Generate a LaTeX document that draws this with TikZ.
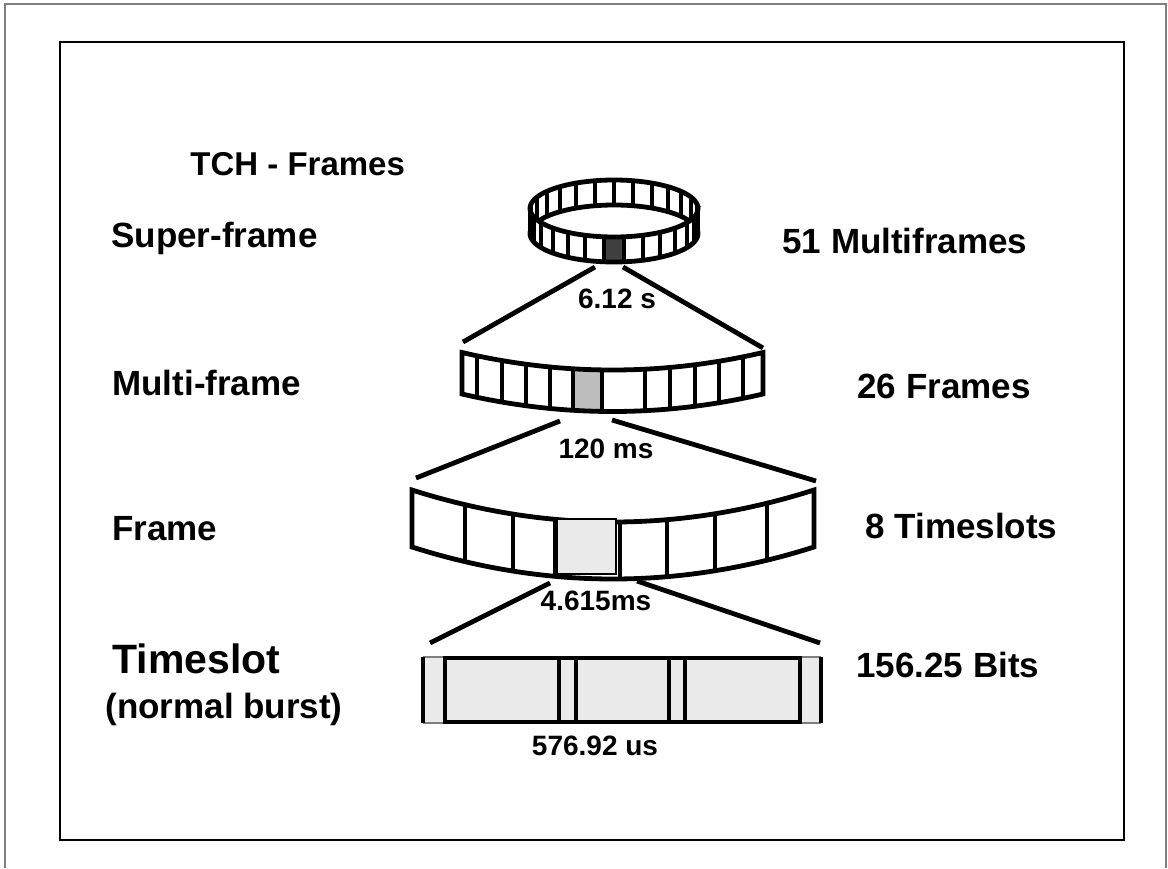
\documentclass[tikz,border=0pt]{standalone}
\usepackage{fontspec}
\setmainfont{Liberation Sans}
\definecolor{cdark}{HTML}{404040}
\definecolor{cmid}{HTML}{BDBDBD}
\definecolor{clight}{HTML}{EAEAEA}
\definecolor{cgrey}{HTML}{7F7F7F}
\tikzset{
  lbl/.style={font=\fontsize{17.5}{21}\selectfont\bfseries, inner sep=0pt, anchor=base west},
  dur/.style={font=\fontsize{14}{17}\selectfont\bfseries, inner sep=0pt, anchor=base},
  bar/.style={draw=black, line width=2.4pt, line join=miter},
  link/.style={draw=black, line width=2.4pt},
  cell/.style={draw=black, line width=2pt},
  declare function={mfy(\x)=370-17.5*((\x-612.5)/150.5)*((\x-612.5)/150.5);
                    fry(\x)=522-32*((\x-613)/201)*((\x-613)/201);},
}
\begin{document}
\begin{tikzpicture}[x=0.5pt, y=-0.5pt]
  \useasboundingbox (0,0) rectangle (1168,868);
  % slide frame
  \draw[cgrey, line width=1pt] (5,868) -- (5,3.5) -- (1166,3.5) -- (1166,868);
  \draw[line width=0.8pt] (60,42) rectangle (1124,840);

  % labels
  \node[lbl, font=\fontsize{16.5}{20}\selectfont\bfseries] (title) at (190,175) {TCH - Frames};
  \node[lbl] (super) at (111,247) {Super-frame};
  \node[lbl] (multi) at (112,395) {Multi-frame};
  \node[lbl] (frame) at (112,540) {Frame};
  \node[lbl, font=\fontsize{20.5}{24}\selectfont\bfseries] (slot) at (112,673) {Timeslot};
  \node[lbl] (burst) at (105,718) {(normal burst)};
  \node[lbl] (n-mf) at (782,253) {51 Multiframes};
  \node[lbl] (n-fr) at (857,398) {26 Frames};
  \node[lbl] (n-ts) at (865,538) {8 Timeslots};
  \node[lbl] (n-bit) at (856,677) {156.25 Bits};
  \node[dur] (d-sf) at (617,308) {6.12 s};
  \node[dur] (d-mf) at (606,458) {120 ms};
  \node[dur] (d-fr) at (596,610) {4.615ms};
  \node[dur] (d-ts) at (595,755) {576.92 us};

  % super-frame ring: 27 cells, dark one in front
  \def\ringx{614} \def\ringy{208.5} \def\ringa{84} \def\ringb{28.5} \def\ringh{25}
  \draw[bar] plot[domain=180:360, samples=60] ({\ringx+\ringa*cos(\x)},{\ringy+\ringh+\ringb*sin(\x)});
  \foreach \k in {7,...,19}
    \draw[cell] ({\ringx+\ringa*cos(96.667+13.333*\k)},{\ringy+\ringb*sin(96.667+13.333*\k)}) -- ++(0,\ringh);
  \fill[white] plot[domain=0:180, samples=60] ({\ringx+\ringa*cos(\x)},{\ringy+\ringb*sin(\x)})
    -- plot[domain=180:0, samples=60] ({\ringx+\ringa*cos(\x)},{\ringy+\ringh+\ringb*sin(\x)}) -- cycle;
  \fill[cdark] plot[domain=83.333:96.667, samples=8] ({\ringx+\ringa*cos(\x)},{\ringy+\ringb*sin(\x)})
    -- plot[domain=96.667:83.333, samples=8] ({\ringx+\ringa*cos(\x)},{\ringy+\ringh+\ringb*sin(\x)}) -- cycle;
  \foreach \k in {-7,...,6}
    \draw[cell] ({\ringx+\ringa*cos(96.667+13.333*\k)},{\ringy+\ringb*sin(96.667+13.333*\k)}) -- ++(0,\ringh);
  \draw[bar] plot[domain=0:360, samples=120] ({\ringx+\ringa*cos(\x)},{\ringy+\ringb*sin(\x)}) -- cycle;
  \draw[bar] plot[domain=0:180, samples=60] ({\ringx+\ringa*cos(\x)},{\ringy+\ringh+\ringb*sin(\x)});
  \draw[bar] ({\ringx-\ringa},\ringy) -- ++(0,\ringh) ({\ringx+\ringa},\ringy) -- ++(0,\ringh);

  % multi-frame
  \fill[cmid] plot[domain=573:602, samples=10] (\x,{mfy(\x)}) -- plot[domain=602:573, samples=10] (\x,{mfy(\x)+41.5}) -- cycle;
  \draw[bar] plot[domain=462:763, samples=50] (\x,{mfy(\x)}) -- plot[domain=763:462, samples=50] (\x,{mfy(\x)+41.5}) -- cycle;
  \foreach \p in {477,502,526,550,573,602,645,670,695,719,743}
    \draw[bar] (\p,{mfy(\p)}) -- (\p,{mfy(\p)+41.5});

  % frame
  \draw[bar] plot[domain=412:814, samples=50] (\x,{fry(\x)}) -- plot[domain=814:412, samples=50] (\x,{fry(\x)+57}) -- cycle;
  \foreach \p in {465,513,555,620,667,715,767}
    \draw[bar] (\p,{fry(\p)}) -- (\p,{fry(\p)+57});
  \filldraw[fill=clight, draw=black, line width=0.6pt] (557,519) rectangle (616,574);

  % timeslot (normal burst)
  \fill[clight] (423,657) rectangle (821,723);
  \draw[cgrey, line width=0.7pt] (423,657) -- (821,657) (423,723) -- (821,723);
  \draw[bar] (423,657) -- (423,723) (821,657) -- (821,723);
  \draw[bar] (445,658) rectangle (800,722);
  \foreach \p in {559,576,669,685}
    \draw[bar] (\p,658) -- (\p,722);

  % zoom lines between levels
  \coordinate (ring-l) at (595,267); \coordinate (ring-r) at (623,267);
  \coordinate (mf-tl) at (463,342);  \coordinate (mf-tr) at (763,348);
  \coordinate (mf-bl) at (560,421);  \coordinate (mf-br) at (612,420);
  \coordinate (fr-tl) at (416,478);  \coordinate (fr-tr) at (816,481);
  \coordinate (fr-bl) at (550,583);  \coordinate (fr-br) at (637,581);
  \coordinate (ts-tl) at (430,643);  \coordinate (ts-tr) at (820,643);
  \draw[link] (ring-l) -- (mf-tl);
  \draw[link] (ring-r) -- (mf-tr);
  \draw[link] (mf-bl) -- (fr-tl);
  \draw[link] (mf-br) -- (fr-tr);
  \draw[link] (fr-bl) -- (ts-tl);
  \draw[link] (fr-br) -- (ts-tr);
\end{tikzpicture}
\end{document}
